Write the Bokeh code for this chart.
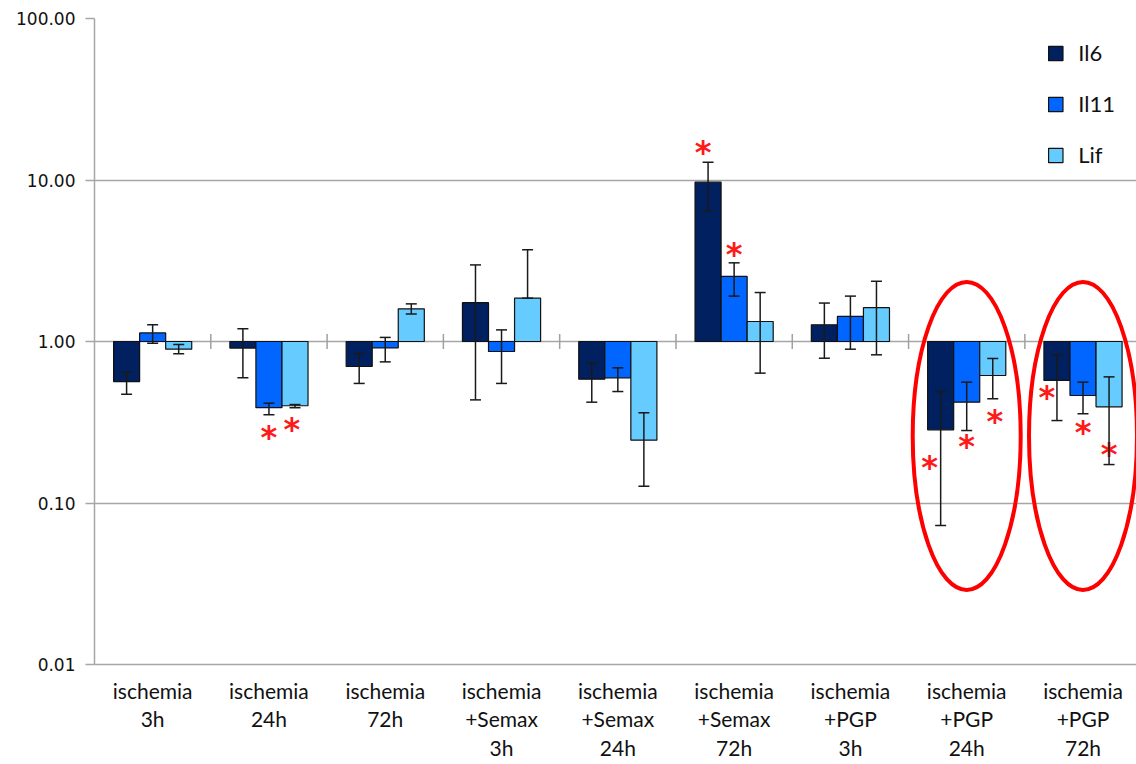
from bokeh.plotting import figure
from bokeh.models import (Range1d, FixedTicker, PrintfTickFormatter, ColumnDataSource,
                          Whisker, TeeHead, Legend, LegendItem)
from bokeh.core.properties import value
from bokeh.embed import file_html
from bokeh.resources import INLINE

# ---------------- data ----------------
categories = ["ischemia\n3h", "ischemia\n24h", "ischemia\n72h",
              "ischemia\n+Semax\n3h", "ischemia\n+Semax\n24h", "ischemia\n+Semax\n72h",
              "ischemia\n+PGP\n3h", "ischemia\n+PGP\n24h", "ischemia\n+PGP\n72h"]
series = ["Il6", "Il11", "Lif"]

il6 = [0.565, 0.91, 0.70, 1.74, 0.584, 9.69, 1.27, 0.284, 0.574]
il6_lo = [0.472, 0.596, 0.55, 0.435, 0.421, 6.44, 0.788, 0.0726, 0.324]
il6_hi = [0.645, 1.20, 0.843, 2.98, 0.738, 12.9, 1.73, 0.49, 0.827]

il11 = [1.13, 0.389, 0.914, 0.867, 0.596, 2.53, 1.43, 0.421, 0.463]
il11_lo = [0.976, 0.352, 0.748, 0.55, 0.49, 1.91, 0.896, 0.281, 0.357]
il11_hi = [1.27, 0.415, 1.06, 1.18, 0.687, 3.07, 1.91, 0.56, 0.56]

lif = [0.896, 0.40, 1.594, 1.855, 0.245, 1.33, 1.62, 0.616, 0.394]
lif_lo = [0.839, 0.389, 1.48, 1.855, 0.127, 0.637, 0.827, 0.442, 0.173]
lif_hi = [0.958, 0.407, 1.71, 3.70, 0.362, 2.01, 2.36, 0.785, 0.604]

y_ticks = [0.01, 0.1, 1, 10, 100]

# significance asterisks: group index, series index, level
star_group = [1, 1, 5, 5, 7, 7, 7, 8, 8, 8]
star_series = [1, 2, 0, 1, 0, 1, 2, 0, 1, 2]
star_y = [0.273, 0.302, 15.7, 3.71, 0.176, 0.237, 0.343, 0.477, 0.293, 0.214]

# highlighted groups (red ellipses)
highlight_groups = [7, 8]
highlight_y = [0.26, 0.26]

# ---------------- styling / layout ----------------
colors = ["#002060", "#0066FF", "#66CCFF"]
offsets = [-0.224, 0.0, 0.224]
bar_w = 0.224
star_dx = [0, -3, -5, 0, -11, 0, 2, -10, 0, 0]

p = figure(width=1136, height=764, output_backend="svg", toolbar_location=None,
           x_range=Range1d(0, 8.96), y_range=Range1d(0.01, 100), y_axis_type="log",
           min_border_left=94, min_border_top=18, min_border_bottom=100, min_border_right=0)
p.outline_line_color = None
p.background_fill_color = "white"

vals = [il6, il11, lif]
los = [il6_lo, il11_lo, lif_lo]
his = [il6_hi, il11_hi, lif_hi]

renderers = []
for s in range(3):
    xs = [i + 0.5 + offsets[s] for i in range(len(categories))]
    src = ColumnDataSource(dict(x=xs, top=vals[s], bottom=[1.0] * len(xs),
                                lo=los[s], hi=his[s]))
    r = p.vbar(x="x", top="top", bottom="bottom", width=bar_w, source=src,
               fill_color=colors[s], line_color="#111111", line_width=1.2)
    renderers.append(r)
    w = Whisker(base="x", lower="lo", upper="hi", source=src, dimension="height",
                line_color="#1a1a1a", line_width=1.5, level="annotation",
                upper_head=TeeHead(size=11, line_color="#1a1a1a", line_width=1.5),
                lower_head=TeeHead(size=11, line_color="#1a1a1a", line_width=1.5))
    p.add_layout(w)

# category separator ticks on the 1.00 line
sep_x = list(range(1, len(categories)))
p.scatter(x=sep_x, y=[1.0] * len(sep_x), marker="dash", angle=1.5708, size=15,
          line_color="#a0a0a0", line_width=1.5)

# asterisks
sx = [g + 0.5 + offsets[s] for g, s in zip(star_group, star_series)]
p.text(x=sx, y=star_y, text=["*"] * len(sx), x_offset=star_dx, y_offset=[4] * len(sx),
       text_color="#ff1a1a", text_font=value("DejaVu Sans"), text_font_style="bold",
       text_font_size="32px", text_align="center", text_baseline="alphabetic")

# ellipses
p.ellipse(x=[g + 0.5 for g in highlight_groups], y=highlight_y, width=108, height=308,
          width_units="screen", height_units="screen", fill_color=None,
          line_color="#ff0000", line_width=4)

# axes
p.xgrid.visible = False
p.ygrid.ticker = FixedTicker(ticks=y_ticks[1:])
p.ygrid.grid_line_color = "#a6a6a6"
p.ygrid.grid_line_width = 1.5

p.yaxis.ticker = FixedTicker(ticks=y_ticks, minor_ticks=[])
p.yaxis.formatter = PrintfTickFormatter(format="%.2f")
p.yaxis.axis_line_color = "#a6a6a6"
p.yaxis.axis_line_width = 1.5
p.yaxis.major_tick_line_color = "#a6a6a6"
p.yaxis.major_tick_line_width = 1.5
p.yaxis.major_tick_out = 9
p.yaxis.major_tick_in = 0
p.yaxis.minor_tick_line_color = None
p.yaxis.major_label_standoff = 10
p.yaxis.major_label_text_font = "DejaVu Sans"
p.yaxis.major_label_text_font_size = "17px"
p.yaxis.major_label_text_color = "#111111"

p.xaxis.ticker = FixedTicker(ticks=[i + 0.5 for i in range(len(categories))])
p.xaxis.major_label_overrides = {i + 0.5: c for i, c in enumerate(categories)}
p.xaxis.axis_line_color = "#a6a6a6"
p.xaxis.axis_line_width = 1.5
p.xaxis.major_tick_line_color = None
p.xaxis.minor_tick_line_color = None
p.xaxis.major_label_standoff = 7
p.xaxis.major_label_text_font = "Lato"
p.xaxis.major_label_text_font_size = "21px"
p.xaxis.major_label_text_line_height = 1.15
p.xaxis.major_label_text_color = "#111111"

legend = Legend(items=[LegendItem(label=series[s], renderers=[renderers[s]]) for s in range(3)],
                location="top_right", margin=21, padding=0, spacing=24,
                glyph_width=18, glyph_height=18, label_standoff=14,
                label_text_font="Lato", label_text_font_size="22px",
                label_text_color="#111111",
                background_fill_alpha=0, border_line_color=None)
p.add_layout(legend)

open("out.html", "w").write(file_html(p, INLINE))
